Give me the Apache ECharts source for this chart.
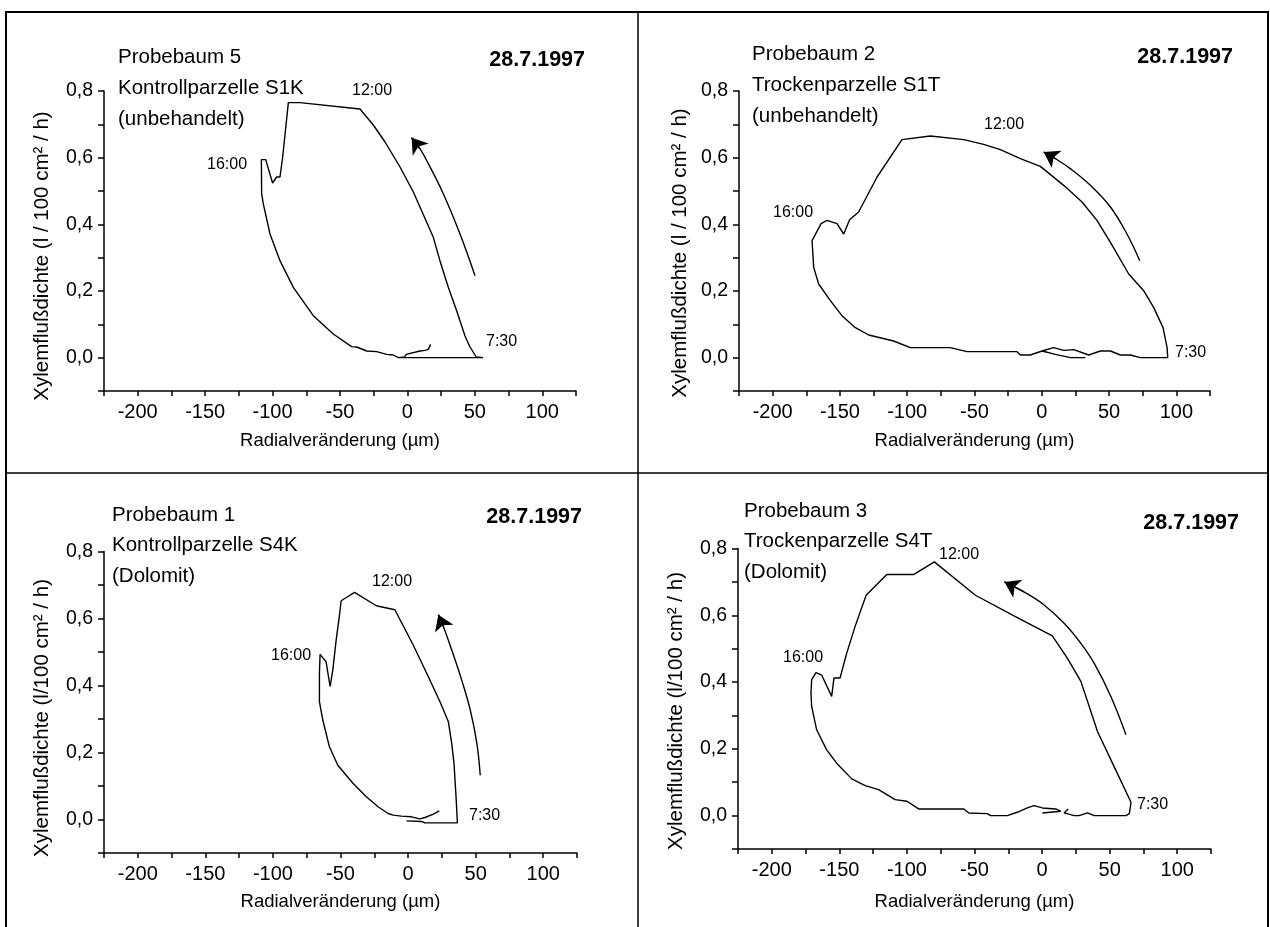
<!DOCTYPE html>
<html><head><meta charset="utf-8">
<script src="https://cdn.jsdelivr.net/npm/echarts@6/dist/echarts.min.js"></script>
<style>html,body{margin:0;padding:0;background:#fff}#c{width:1270px;height:927px}</style>
</head><body><div id="c"></div>
<script>
// ---------- data ----------
const xTickLabels = ['-200','-150','-100','-50','0','50','100'];
const yTickLabels = ['0,0','0,2','0,4','0,6','0,8'];

// Panel 1: Probebaum 5
const loop1 = [[-5,0],[56,0],[51,0.002],[46,0.035],[42.7,0.065],[36.5,0.141],[30.3,0.211],[24.1,0.291],[19.2,0.361],[4.4,0.497],[-5.5,0.572],[-16.6,0.647],[-25.3,0.698],[-35.2,0.746],[-79.7,0.765],[-88.3,0.765],[-92.5,0.602],[-94.5,0.542],[-97,0.542],[-100,0.524],[-105.1,0.594],[-108.3,0.594],[-108.1,0.492],[-106.9,0.462],[-101.9,0.371],[-94.5,0.291],[-84.6,0.211],[-69.8,0.126],[-55,0.071],[-41.4,0.033],[-37.6,0.032],[-30.2,0.02],[-22.8,0.018],[-15.4,0.01],[-10.5,0.008],[-6.8,0],[-2.1,0.002],[-0.9,0.01],[9.3,0.02],[13,0.022],[15.5,0.025],[17.2,0.04]];
const arrow1 = [[50.1,0.246],[39,0.371],[26.6,0.492],[15.5,0.582],[9.3,0.627],[3.1,0.66]];

// Panel 2: Probebaum 2
const loop2 = [[32.4,0],[21.2,0],[10.1,0.01],[0.2,0.02],[8.8,0.03],[16.3,0.022],[23.7,0.024],[34.9,0.008],[43.5,0.02],[51,0.02],[58.4,0.008],[65.8,0.008],[73.2,0],[93.6,0],[93.1,0.03],[90.1,0.09],[83.1,0.151],[75.7,0.201],[64.6,0.251],[51,0.346],[41,0.412],[29.9,0.467],[16.3,0.517],[-1.1,0.574],[-15.9,0.597],[-30.8,0.624],[-43.2,0.64],[-58,0.654],[-82.8,0.665],[-103.9,0.654],[-122.4,0.542],[-136.1,0.437],[-142.8,0.414],[-147.2,0.371],[-152.2,0.402],[-159.6,0.412],[-164,0.402],[-170.7,0.351],[-169.5,0.271],[-165.8,0.221],[-157.1,0.171],[-148.5,0.126],[-138.5,0.09],[-128.6,0.068],[-110.1,0.05],[-97.7,0.03],[-68,0.03],[-55.6,0.018],[-18.4,0.018],[-15.9,0.008],[-8.5,0.008],[0.2,0.02]];
const arrow2 = [[72.8,0.291],[63.3,0.371],[51,0.452],[36.1,0.517],[21.2,0.567],[10.1,0.597],[1.4,0.617]];

// Panel 3: Probebaum 1
const loop3 = [[-1.2,-0.004],[10,-0.006],[12.5,-0.01],[36.5,-0.01],[35.5,0.068],[34,0.167],[32.3,0.227],[29.8,0.292],[24.1,0.347],[15,0.426],[3.8,0.521],[-9.8,0.626],[-23.5,0.638],[-39.6,0.678],[-49.5,0.653],[-51.2,0.596],[-53.2,0.536],[-55.7,0.446],[-57.7,0.397],[-60.7,0.471],[-65.1,0.493],[-65.6,0.436],[-65.6,0.352],[-63.1,0.297],[-58.2,0.217],[-52,0.162],[-40.8,0.108],[-30.9,0.068],[-22.2,0.038],[-14.8,0.018],[-11.1,0.013],[-4.9,0.01],[2.5,0.008],[8.7,0.002],[12.5,0.006],[18.7,0.016],[23.1,0.026]];
const arrow3 = [[53.4,0.132],[50.9,0.227],[46,0.327],[39.7,0.416],[32.3,0.506],[26.1,0.576],[22.4,0.611]];

// Panel 4: Probebaum 3
const loop4 = [[19.3,0.02],[16.3,0.008],[23.7,0],[27.4,0],[33.6,0.008],[38.6,0],[62.1,0],[64.6,0.006],[65.8,0.04],[53.4,0.146],[41,0.252],[34.9,0.327],[28.7,0.402],[18.8,0.471],[7.6,0.538],[-20.8,0.598],[-49.3,0.66],[-79.7,0.76],[-95.1,0.722],[-114.9,0.722],[-130.2,0.66],[-138.4,0.566],[-144.6,0.486],[-149.5,0.412],[-154,0.412],[-155.7,0.357],[-163.1,0.421],[-167.3,0.428],[-170.5,0.407],[-171,0.367],[-170.5,0.327],[-166.8,0.257],[-159.4,0.197],[-152,0.157],[-140.8,0.11],[-130.9,0.09],[-121,0.078],[-108.7,0.048],[-100,0.043],[-91.3,0.02],[-57.9,0.02],[-54.2,0.008],[-40.6,0.006],[-38.1,0],[-25.8,0],[-18.4,0.01],[-10.9,0.023],[-6,0.03],[0.2,0.023],[10.1,0.02],[13.8,0.013],[0.2,0.008]];
const arrow4 = [[62.1,0.242],[50.9,0.357],[38.6,0.456],[28.7,0.516],[16.3,0.576],[1.5,0.631],[-13.4,0.67],[-27.8,0.7]];

const headers = [
  ['Probebaum 5','Kontrollparzelle S1K','(unbehandelt)'],
  ['Probebaum 2','Trockenparzelle S1T','(unbehandelt)'],
  ['Probebaum 1','Kontrollparzelle S4K','(Dolomit)'],
  ['Probebaum 3','Trockenparzelle S4T','(Dolomit)']
];
const dateText = '28.7.1997';
const timeLabels = ['12:00','16:00','7:30'];
const yTitles = ['Xylemflußdichte (l / 100 cm² / h)','Xylemflußdichte (l / 100 cm² / h)','Xylemflußdichte (l/100 cm² / h)','Xylemflußdichte (l/100 cm² / h)'];
const xTitle = 'Radialveränderung (µm)';

// ---------- layout (pixels) ----------
const FF = '"Liberation Sans", Arial, Helvetica, sans-serif';
const grids = [
  {left:104, top:91, width:472, height:300},
  {left:739, top:91, width:471, height:300},
  {left:104, top:551.5, width:473, height:301.5},
  {left:738, top:548.5, width:473, height:300.5}
];
const xNameGaps = [40, 40, 39, 43];
const headerPos = [
  {x:118, y:[57,88,119], dx:585, dy:60},
  {x:752, y:[54,85,116], dx:1233, dy:57},
  {x:112, y:[515,545,576], dx:582, dy:517},
  {x:744, y:[511,541,572], dx:1239, dy:523}
];
const timePos = [
  [[352,91],[207,165],[486,342]],
  [[984,125],[773,213],[1175,353]],
  [[372,582],[271,656],[469,816]],
  [[939,555],[783,658],[1137,805]]
];
const yTitlePos = [[42,256],[680,253],[42,718],[676,711]];

const loops = [loop1, loop2, loop3, loop4];
const arrows = [arrow1, arrow2, arrow3, arrow4];

const xAxes = [], yAxes = [], series = [];
for (let i = 0; i < 4; i++) {
  xAxes.push({
    gridIndex:i, type:'value', min:-225, max:125, interval:25,
    name:xTitle, nameLocation:'middle', nameGap:xNameGaps[i],
    nameTextStyle:{fontFamily:FF, fontSize:18.5, color:'#000'},
    axisLine:{show:true, onZero:false, lineStyle:{color:'#000', width:1.5}},
    axisTick:{show:true, inside:false, length:5, lineStyle:{color:'#000', width:1.5}},
    axisLabel:{margin:11, fontFamily:FF, fontSize:20, color:'#000',
      formatter:v => { const s = String(Math.round(v)); return xTickLabels.indexOf(s) >= 0 ? s : ''; }},
    splitLine:{show:false}
  });
  yAxes.push({
    gridIndex:i, type:'value', min:-0.1, max:0.8, interval:0.1,
    axisLine:{show:true, onZero:false, lineStyle:{color:'#000', width:1.5}},
    axisTick:{show:true, inside:false, length:6, lineStyle:{color:'#000', width:1.5}},
    axisLabel:{margin:11, fontFamily:FF, fontSize:19.5, color:'#000',
      formatter:v => { const r = Math.round(v*10); return (r >= 0 && r % 2 === 0) ? yTickLabels[r/2] : ''; }},
    splitLine:{show:false}
  });
  series.push({
    type:'line', xAxisIndex:i, yAxisIndex:i, data:loops[i], showSymbol:false, symbol:'none',
    lineStyle:{color:'#000', width:1.4}, itemStyle:{color:'#000'}, silent:true, clip:false
  });
  const a = arrows[i];
  series.push({
    type:'line', xAxisIndex:i, yAxisIndex:i, data:a, smooth:0.4, showSymbol:false, symbol:'none',
    lineStyle:{color:'#000', width:1.4}, itemStyle:{color:'#000'}, silent:true, clip:false,
    markLine:{
      silent:true, animation:false, symbol:['none','arrow'], symbolSize:15,
      label:{show:false}, lineStyle:{color:'#000', width:1.4, type:'solid'},
      itemStyle:{color:'#000'},
      data:[[{coord:a[a.length-2]},{coord:a[a.length-1]}]]
    }
  });
}

const graphic = [];
// frame
graphic.push({type:'rect', shape:{x:6, y:12, width:1262, height:940}, style:{fill:'none', stroke:'#000', lineWidth:2}, silent:true});
graphic.push({type:'line', shape:{x1:6, y1:473, x2:1268, y2:473}, style:{stroke:'#000', lineWidth:1.5}, silent:true});
graphic.push({type:'line', shape:{x1:638, y1:12, x2:638, y2:940}, style:{stroke:'#000', lineWidth:1.5}, silent:true});
for (let i = 0; i < 4; i++) {
  const hp = headerPos[i];
  for (let k = 0; k < 3; k++) {
    graphic.push({type:'text', x:hp.x, y:hp.y[k], silent:true,
      style:{text:headers[i][k], fontFamily:FF, fontSize:20.5, fill:'#000', align:'left', verticalAlign:'middle'}});
  }
  graphic.push({type:'text', x:hp.dx, y:hp.dy, silent:true,
    style:{text:dateText, fontFamily:FF, fontSize:21.5, fontWeight:'bold', fill:'#000', align:'right', verticalAlign:'middle'}});
  for (let k = 0; k < 3; k++) {
    graphic.push({type:'text', x:timePos[i][k][0], y:timePos[i][k][1], silent:true,
      style:{text:timeLabels[k], fontFamily:FF, fontSize:16, fill:'#000', align:'left', verticalAlign:'middle'}});
  }
  graphic.push({type:'text', x:yTitlePos[i][0], y:yTitlePos[i][1], rotation:Math.PI/2, silent:true,
    style:{text:yTitles[i], fontFamily:FF, fontSize:20.5, fill:'#000', align:'center', verticalAlign:'middle'}});
}

const chart = echarts.init(document.getElementById('c'), null, {renderer:'canvas'});
chart.setOption({
  animation:false,
  backgroundColor:'#fff',
  grid:grids,
  xAxis:xAxes,
  yAxis:yAxes,
  series:series,
  graphic:graphic
});
</script></body></html>
